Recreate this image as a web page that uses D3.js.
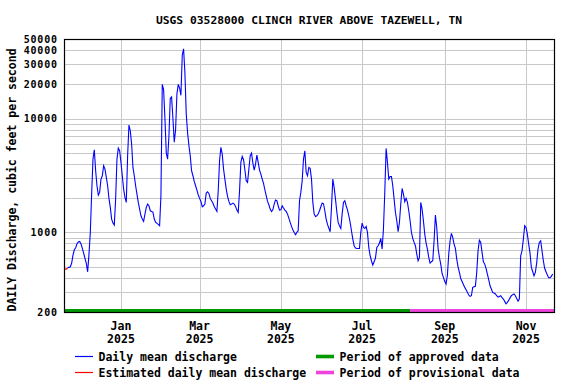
<!DOCTYPE html>
<html>
<head>
<meta charset="utf-8">
<script src="https://cdn.jsdelivr.net/npm/d3@7"></script>
<style>
  html, body { margin: 0; padding: 0; background: #fff; }
  text { font-family: "DejaVu Sans Mono", monospace; font-weight: bold; fill: #000; }
</style>
</head>
<body>
<svg id="chart" width="576" height="384"></svg>
<script>
// ---------------- DATA ----------------
const titleText = "USGS 03528000 CLINCH RIVER ABOVE TAZEWELL, TN";
const yAxisTitle = "DAILY Discharge, cubic feet per second";
const startDate = "2024-11-20";           // first daily value
const domainStart = "2024-11-20";
const domainEnd = "2025-11-22";
const estimatedCount = 3;                 // first points drawn as estimated (red)
const approvedEnd = "2025-08-06";         // end of approved period
// daily mean discharge, cfs
const dischargeValues = [
476,476,489,493,499,538,632,704,733,795,823,834,795,723,658,591,534,451,645,1000,
2171,4400,5323,3480,2570,2128,2246,2941,3147,3852,
3601,3043,2570,1990,1658,1310,1208,1160,1963,4409,
5506,5216,4120,3147,2403,2030,1835,4716,8768,7819,
5970,3724,3147,2570,2171,1835,1603,1401,1310,1249,
1449,1658,1774,1715,1550,1529,1509,1310,1232,1200,
1176,1144,2100,20000,18000,10000,5000,4400,7000,15000,
15500,10000,6200,8000,16500,20000,18500,16000,36000,41000,
25000,11000,7500,5800,4700,3480,3147,2806,2570,2354,
2142,1990,1872,1681,1715,1774,2215,2276,2200,1990,
1897,1810,1692,1603,1529,2323,4262,5580,4877,3601,
2941,2403,2072,1873,1750,1774,1810,1774,1692,1571,
1499,2323,4120,4651,4349,3552,2844,2750,3601,4716,
4975,4066,3530,3984,4780,4120,3530,3253,2941,2695,
2371,2100,1873,1750,1603,1529,1580,1774,1923,1898,
1715,1571,1580,1715,1636,1571,1529,1449,1336,1224,
1129,1055,1000,954,1000,1034,1898,2246,2845,4409,
5216,3366,3147,3724,3650,2941,1835,1449,1382,1401,
1449,1550,1681,1810,1786,1550,1310,1176,1092,1014,
1658,2941,2485,1963,1519,1224,1144,1084,1449,1835,
1898,1715,1580,1401,1224,1034,874,764,729,723,
723,723,1000,1208,1106,1084,1129,1000,738,624,
564,516,553,595,738,764,806,886,714,1070,
2246,5469,4120,2941,3100,3100,2570,1963,1499,1266,
1014,1224,1774,2435,2171,1860,1990,1835,1550,1266,
1000,886,817,764,645,564,603,1835,1603,1266,
967,806,714,603,538,553,564,845,1420,1106,
723,603,527,436,403,371,352,422,645,845,
980,904,790,723,583,499,445,394,371,349,
329,314,298,282,274,278,329,333,336,445,
690,856,817,667,553,527,484,431,384,340,
318,296,294,288,278,270,274,278,268,260,
248,236,243,254,266,278,284,288,278,263,
249,260,624,690,874,1144,1106,967,790,658,
493,454,416,445,538,714,817,845,690,564,
484,451,422,400,400,411,431
];
const yTickValues = [200, 1000, 10000, 20000, 30000, 40000, 50000];
const yGridValues = [300,400,500,600,700,800,900,1000,2000,3000,4000,5000,6000,7000,8000,9000,10000,20000,30000,40000];
const xTickDates = ["2025-01-01","2025-03-01","2025-05-01","2025-07-01","2025-09-01","2025-11-01"];
const xTickLabels = [["Jan","2025"],["Mar","2025"],["May","2025"],["Jul","2025"],["Sep","2025"],["Nov","2025"]];
const legendItems = [
  {label: "Daily mean discharge", color: "#0000ff", kind: "line"},
  {label: "Estimated daily mean discharge", color: "#ff0000", kind: "line"},
  {label: "Period of approved data", color: "#009900", kind: "bar"},
  {label: "Period of provisional data", color: "#ee44dd", kind: "bar"}
];

// ---------------- CHART ----------------
const svg = d3.select("#chart");
const L = 64.5, R = 554.5, T = 39.5, B = 312.5;
const parse = d3.utcParse("%Y-%m-%d");
const x = d3.scaleUtc().domain([parse(domainStart), parse(domainEnd)]).range([65, 554]);
const y = d3.scaleLog().domain([200, 50000]).range([312, 39]);

const start = parse(startDate);
const data = dischargeValues.map((v, i) => ({date: d3.utcDay.offset(start, i), value: v}));

// grid
svg.append("g").selectAll("line").data(yGridValues).join("line")
  .attr("x1", L).attr("x2", R)
  .attr("y1", d => Math.round(y(d)) + 0.5).attr("y2", d => Math.round(y(d)) + 0.5)
  .attr("stroke", "#c8c8c8").attr("stroke-width", 1);
svg.append("g").selectAll("line").data(xTickDates).join("line")
  .attr("x1", d => Math.round(x(parse(d))) + 0.5).attr("x2", d => Math.round(x(parse(d))) + 0.5)
  .attr("y1", T).attr("y2", B)
  .attr("stroke", "#c8c8c8").attr("stroke-width", 1);

// period bars
const aEnd = parse(approvedEnd);
svg.append("rect").attr("x", 64).attr("y", 309)
  .attr("width", x(aEnd) - 64).attr("height", 3.5).attr("fill", legendItems[2].color);
svg.append("rect").attr("x", x(aEnd)).attr("y", 309)
  .attr("width", 554.5 - x(aEnd)).attr("height", 3.5).attr("fill", legendItems[3].color);

// lines
const line = d3.line().x(d => x(d.date)).y(d => y(d.value));
svg.append("path").datum(data.slice(estimatedCount - 1))
  .attr("d", line).attr("fill", "none").attr("stroke", legendItems[0].color).attr("stroke-width", 1.1);
svg.append("path").datum(data.slice(0, estimatedCount))
  .attr("d", line).attr("fill", "none").attr("stroke", legendItems[1].color).attr("stroke-width", 1.1);

// frame
svg.append("rect").attr("x", L).attr("y", T).attr("width", R - L).attr("height", B - T)
  .attr("fill", "none").attr("stroke", "#000").attr("stroke-width", 1.2);

// y tick labels
svg.append("g").selectAll("text").data(yTickValues).join("text")
  .attr("x", 57.8).attr("y", d => y(d) + 3.6)
  .attr("text-anchor", "end").attr("font-size", "10px").attr("letter-spacing", "0.8px")
  .text(d => String(d));

// x tick labels
const xl = svg.append("g").selectAll("g").data(xTickDates).join("g");
xl.append("text").attr("x", d => x(parse(d))).attr("y", 330)
  .attr("text-anchor", "middle").attr("font-size", "11.5px")
  .text((d, i) => xTickLabels[i][0]);
xl.append("text").attr("x", d => x(parse(d))).attr("y", 343)
  .attr("text-anchor", "middle").attr("font-size", "11.5px")
  .text((d, i) => xTickLabels[i][1]);

// title
svg.append("text").attr("x", 309).attr("y", 24).attr("text-anchor", "middle")
  .attr("font-size", "11.3px").text(titleText);

// y axis title
svg.append("text").attr("transform", "translate(15.5,180) rotate(-90)")
  .attr("text-anchor", "middle").attr("font-size", "11.5px").text(yAxisTitle);

// legend
const legPos = [[75, 356.5], [75, 372.5], [316, 356.5], [316, 372.5]];
legendItems.forEach((it, i) => {
  const [lx, ly] = legPos[i];
  if (it.kind === "line") {
    svg.append("line").attr("x1", lx).attr("x2", lx + 18).attr("y1", ly).attr("y2", ly)
      .attr("stroke", it.color).attr("stroke-width", 1.2);
  } else {
    svg.append("rect").attr("x", lx).attr("y", ly - 1.8).attr("width", 18).attr("height", 3.6)
      .attr("fill", it.color);
  }
  svg.append("text").attr("x", lx + 23.5).attr("y", ly + 4.5)
    .attr("font-size", "11.5px").text(it.label);
});
</script>
</body>
</html>
